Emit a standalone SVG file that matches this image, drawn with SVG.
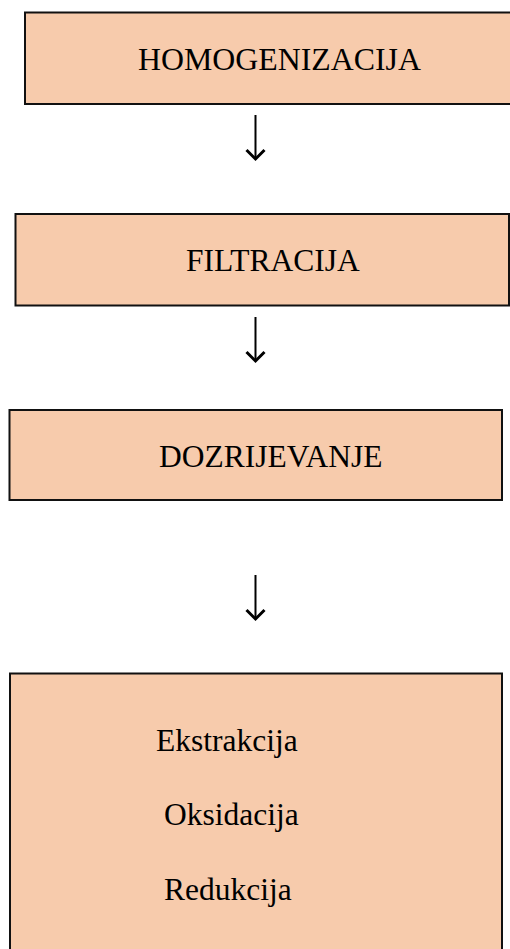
<svg xmlns="http://www.w3.org/2000/svg" width="510" height="949" viewBox="0 0 510 949">
<defs>
<style>
.box{fill:#F7CBAC;stroke:#111;stroke-width:2}
.t{font-family:"Liberation Serif","Times New Roman",serif;font-size:31.5px;fill:#000}
.c{fill:none;stroke:#000;stroke-width:2}
.h{fill:none;stroke:#000;stroke-width:3;stroke-linejoin:miter}
</style>
</defs>
<rect width="510" height="949" fill="#fff"/>
<g id="homogenizacija">
<rect class="box" x="25" y="12.5" width="500" height="91.5"/>
<text class="t" x="138" y="70" textLength="283" lengthAdjust="spacingAndGlyphs">HOMOGENIZACIJA</text>
</g>
<g id="filtracija">
<rect class="box" x="15.5" y="214" width="493.5" height="91.5"/>
<text class="t" x="186" y="271">FILTRACIJA</text>
</g>
<g id="dozrijevanje">
<rect class="box" x="9.5" y="410" width="492.5" height="90"/>
<text class="t" x="159" y="466.5">DOZRIJEVANJE</text>
</g>
<g id="procesi">
<rect class="box" x="10" y="673.5" width="492" height="290"/>
<text class="t" x="156" y="750.5">Ekstrakcija</text>
<text class="t" x="164" y="825">Oksidacija</text>
<text class="t" x="164" y="900">Redukcija</text>
</g>
<g id="connectors">
<line class="c" x1="255.5" y1="115" x2="255.5" y2="159"/>
<path class="h" d="M246.5,150 L255.5,159 L264.5,150"/>
<line class="c" x1="255.5" y1="317" x2="255.5" y2="361"/>
<path class="h" d="M246.5,352 L255.5,361 L264.5,352"/>
<line class="c" x1="255.5" y1="575" x2="255.5" y2="619"/>
<path class="h" d="M246.5,610 L255.5,619 L264.5,610"/>
</g>
</svg>
